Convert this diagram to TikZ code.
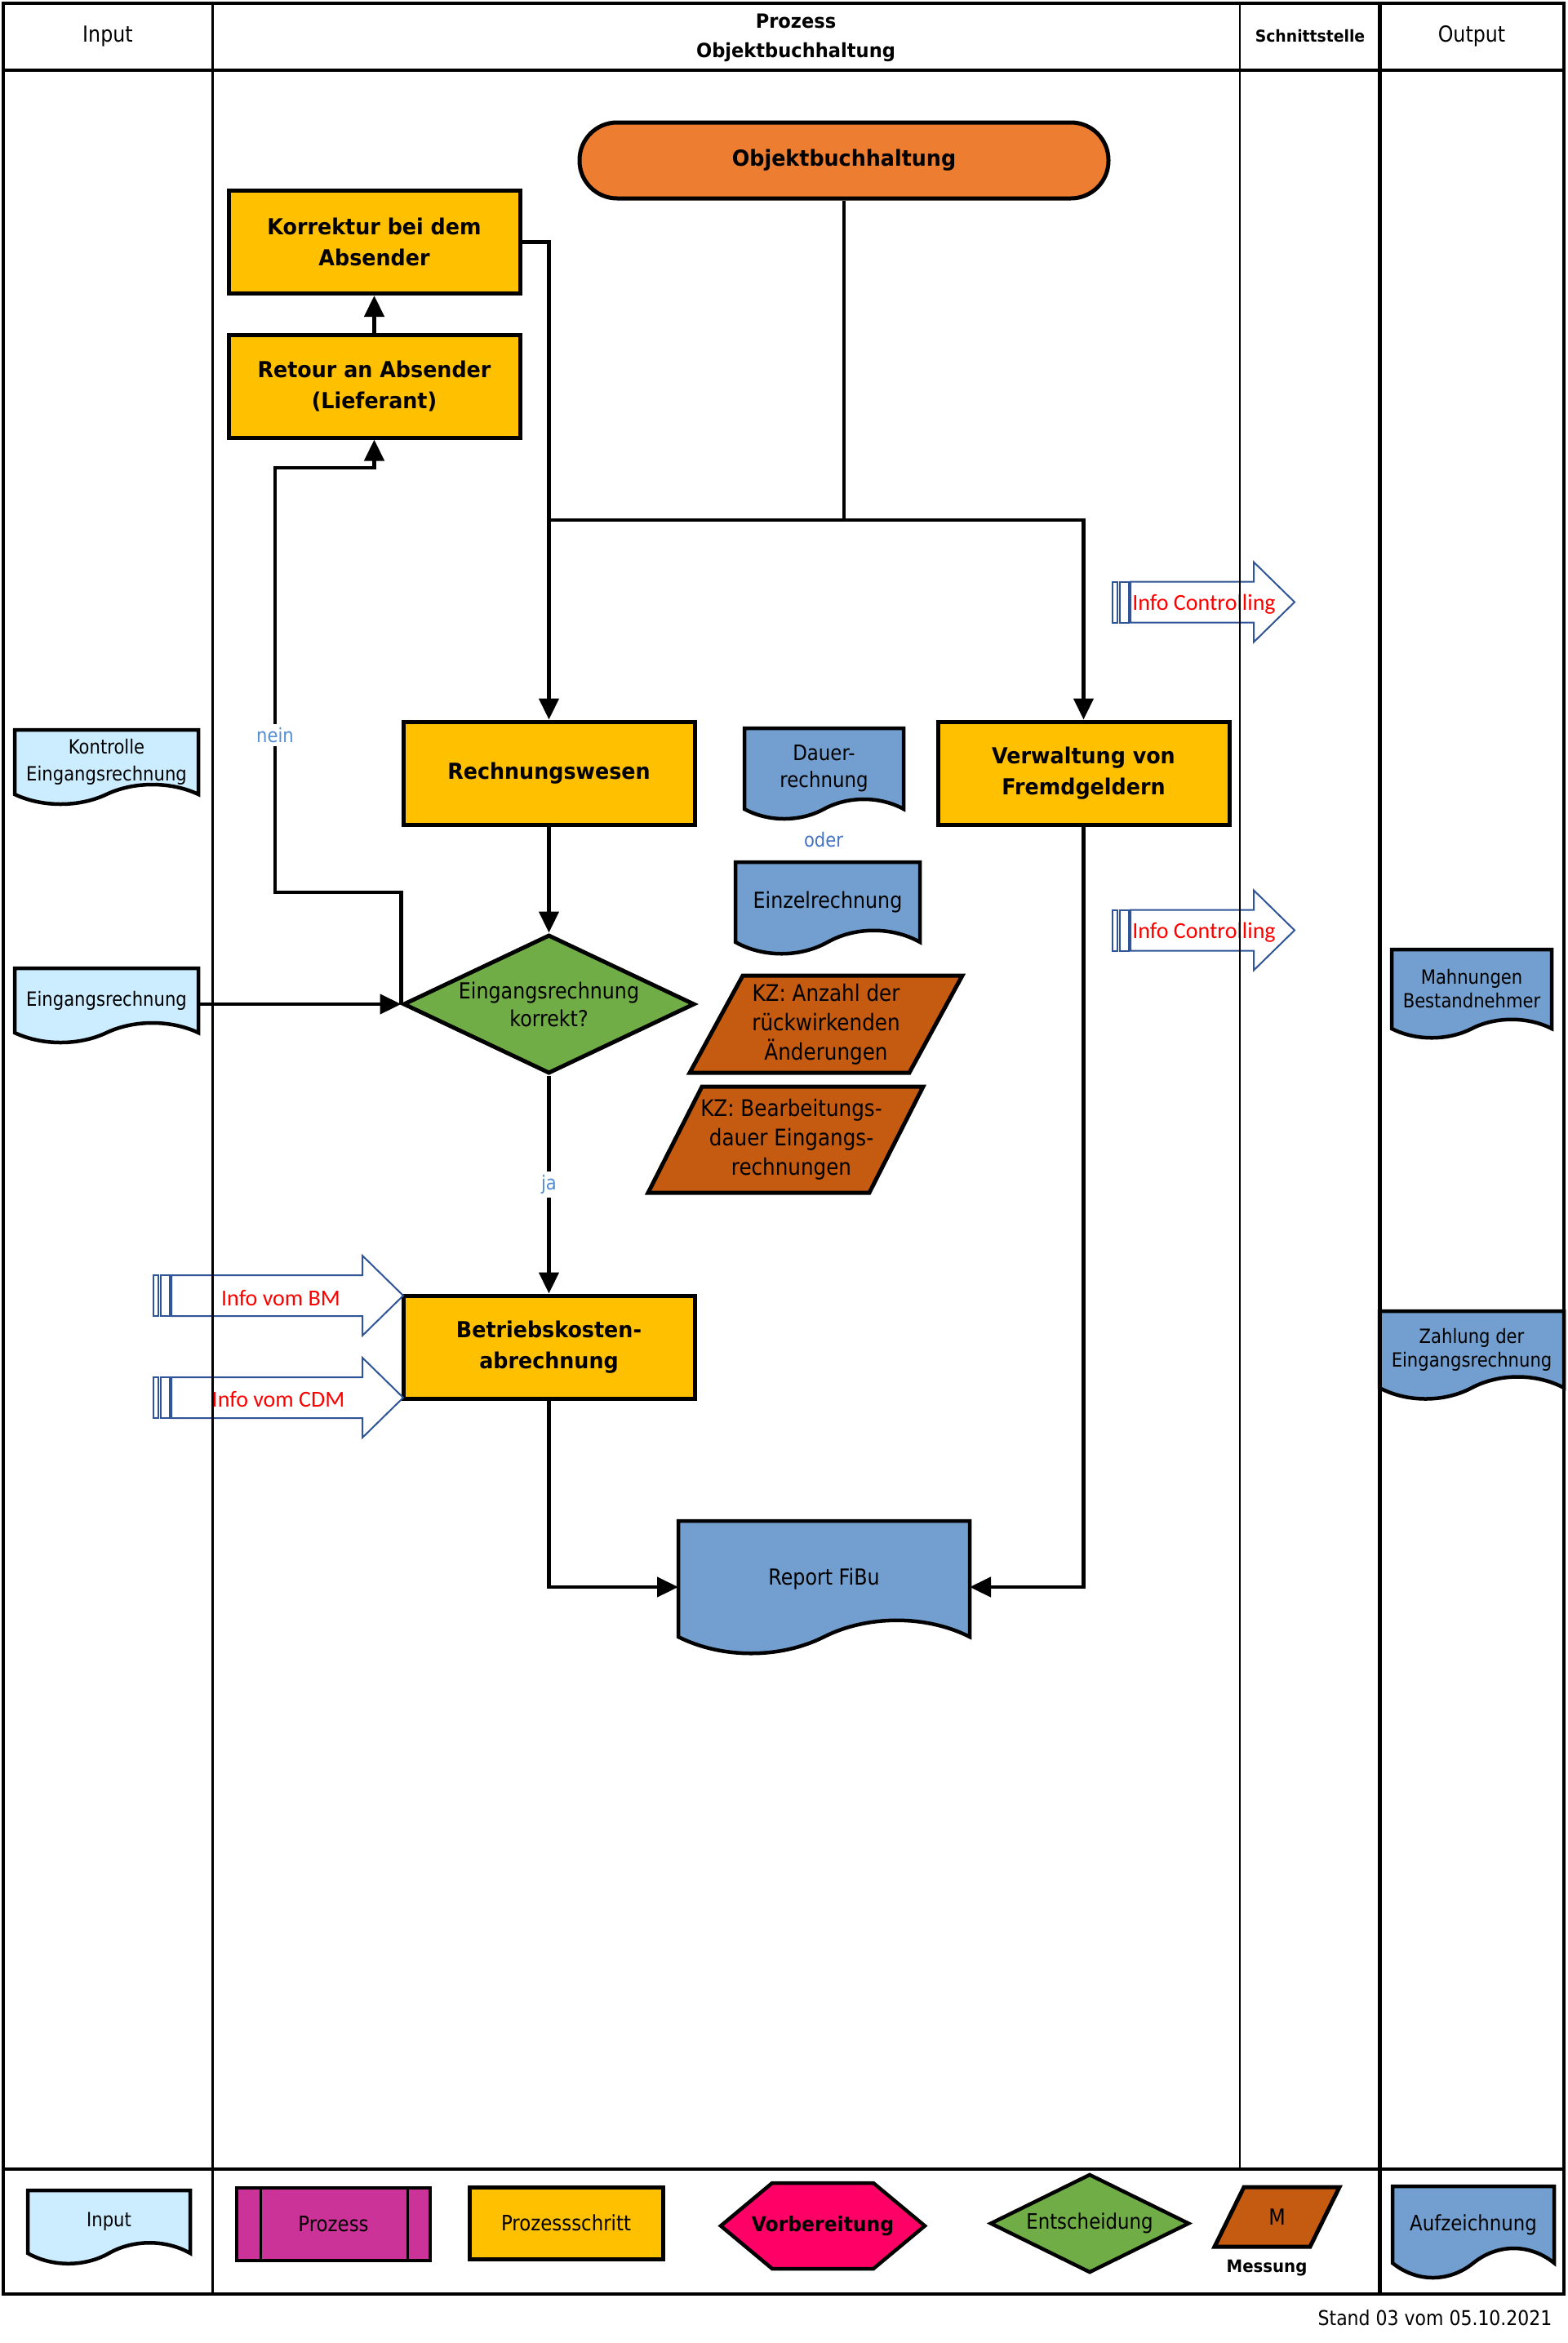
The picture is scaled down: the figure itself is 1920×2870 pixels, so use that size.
\documentclass[tikz,border=0pt]{standalone}
\usepackage{fontspec}
\setmainfont{DejaVu Sans}[FakeStretch=0.88]
\newfontfamily\tahbold{DejaVu Sans}[FakeStretch=0.94]
\newfontfamily\calib{Carlito}
\usetikzlibrary{arrows.meta,positioning,calc,shapes.geometric,backgrounds}
\newcommand{\fs}[2]{\fontsize{#1}{#2}\selectfont}
\definecolor{ink}{RGB}{0,0,0}
\definecolor{stepgold}{RGB}{255,192,0}
\definecolor{termorange}{RGB}{237,125,49}
\definecolor{docblue}{RGB}{114,159,207}
\definecolor{inblue}{RGB}{204,236,255}
\definecolor{decgreen}{RGB}{112,173,71}
\definecolor{kzbrown}{RGB}{197,90,17}
\definecolor{procmagenta}{RGB}{204,51,153}
\definecolor{prepink}{RGB}{255,0,102}
\definecolor{infoblue}{RGB}{47,85,151}
\definecolor{labelblue}{RGB}{84,141,212}
\definecolor{oderblue}{RGB}{68,114,196}
\tikzset{
  frameline/.style={draw=ink,line width=4.5pt},
  lane/.style={draw=ink,line width=3pt},
  flow/.style={draw=ink,line width=4.5pt,-{Triangle[length=26pt,width=24pt]}},
  link/.style={draw=ink,line width=4.5pt},
  headtext/.style={align=center,font=\fs{27}{32}},
  stepbox/.style={draw=ink,line width=5pt,fill=stepgold,minimum width=357pt,minimum height=126pt,inner sep=0pt,align=center,font=\tahbold\bfseries\fs{27}{38}},
  termbox/.style={stepbox,fill=termorange,rounded corners=46pt,minimum width=648pt,minimum height=93pt},
  decision/.style={diamond,aspect=2.1,draw=ink,line width=5pt,fill=decgreen,inner sep=0pt,align=center,font=\fs{27}{34}},
  docnode/.style={inner sep=0pt,outer sep=0pt,align=center},
  docline/.style={draw=ink,line width=4.5pt},
  kz/.style={draw=ink,line width=5pt,fill=kzbrown},
  kztext/.style={inner sep=0pt,outer sep=0pt,align=center,font=\fs{28}{36}},
  infoline/.style={draw=infoblue,line width=2pt},
  infotext/.style={text=red,font=\calib\fs{28}{32}},
  edgelabel/.style={fill=white,inner sep=4pt,text=labelblue,font=\fs{24}{28}}
}
% document shape with wavy bottom edge
\newcommand{\docshape}[3]{%
  \filldraw[docline,fill=#2] (#1.south east) -- (#1.north east) -- (#1.north west) -- (#1.south west)
    .. controls ($(#1.south west)!0.15!(#1.south east)+(0,#3)$) and ($(#1.south west)!0.35!(#1.south east)+(0,#3)$) .. ($(#1.south west)!0.5!(#1.south east)$)
    .. controls ($(#1.south west)!0.65!(#1.south east)+(0,-#3)$) and ($(#1.south west)!0.85!(#1.south east)+(0,-#3)$) .. (#1.south east) -- cycle;}
% measurement parallelogram
\newcommand{\parashape}[3]{%
  \filldraw[kz,fill=#2] ($(#1.north west)+(#3,0)$) -- (#1.north east) -- ($(#1.south east)+(-#3,0)$) -- (#1.south west) -- cycle;}
% outlined interface arrow
\newcommand{\infoarrow}[3]{%
  \draw[infoline] (#1,#2-25) rectangle (#1+6,#2+25);
  \draw[infoline] (#1+9,#2-25) rectangle (#1+20,#2+25);
  \draw[infoline] (#1+22,#2-25) -- (#3-50,#2-25) -- (#3-50,#2-49) -- (#3,#2) -- (#3-50,#2+49) -- (#3-50,#2+25) -- (#1+22,#2+25) -- cycle;}

\begin{document}
\begin{tikzpicture}[x=1pt,y=-1pt]
  \useasboundingbox (0,0) rectangle (1920,2870);

  % header
  \node[headtext] (hin) at (132,44) {Input};
  \node[headtext,font=\tahbold\bfseries\fs{24}{36}] (hproc) at (975,46) {Prozess\\Objektbuchhaltung};
  \node[headtext,font=\tahbold\bfseries\fs{20}{24}] (hschn) at (1605,44) {Schnittstelle};
  \node[headtext] (hout) at (1803,44) {Output};

  % process
  \node[termbox] (obh) at (1034,196.5) {Objektbuchhaltung};
  \node[stepbox] (korr) at (458.5,296.5) {Korrektur bei dem\\Absender};
  \node[stepbox] (ret) at (458.5,473) {Retour an Absender\\(Lieferant)};
  \node[stepbox] (rw) at (672.5,947) {Rechnungswesen};
  \node[stepbox] (vw) at (1327.5,947) {Verwaltung von\\Fremdgeldern};
  \node[decision,minimum width=357pt,minimum height=170pt] (dia) at (672.5,1230) {Eingangsrechnung\\korrekt?};
  \node[stepbox] (bks) at (672.5,1650) {Betriebskosten-\\abrechnung};

  % documents
  \node[docnode,minimum width=225pt,minimum height=79pt,font=\fs{24}{33}] (kon) at (130.5,933.5) {Kontrolle\\Eingangsrechnung};
  \node[docnode,minimum width=225pt,minimum height=79pt,font=\fs{24}{33}] (ein) at (130.5,1225.5) {Eingangsrechnung};
  \node[docnode,minimum width=195pt,minimum height=99pt,font=\fs{26}{33}] (dauer) at (1009.5,941.5) {Dauer-\\rechnung};
  \node[edgelabel,text=oderblue] (oder) at (1009,1029) {oder};
  \node[docnode,minimum width=226pt,minimum height=98pt,font=\fs{27}{33}] (einz) at (1014,1105) {Einzelrechnung};
  \node[docnode,minimum width=357pt,minimum height=142pt,font=\fs{27}{33}] (rep) at (1009.5,1934) {Report FiBu};
  \node[docnode,minimum width=196pt,minimum height=97pt,font=\fs{24}{29}] (mahn) at (1803,1211.5) {Mahnungen\\Bestandnehmer};
  \node[docnode,minimum width=226pt,minimum height=94pt,font=\fs{24}{29}] (zahl) at (1803,1653) {Zahlung der\\Eingangsrechnung};

  % key figures
  \node[kztext,minimum width=334pt,minimum height=119pt] (kza) at (1012,1254.5) {KZ: Anzahl der\\rückwirkenden\\Änderungen};
  \node[kztext,minimum width=337pt,minimum height=130pt] (kzb) at (962.5,1396) {\hspace*{14pt}KZ: Bearbeitungs-\\\hspace*{14pt}dauer Eingangs-\\\hspace*{14pt}rechnungen};

  % interfaces
  \infoarrow{1363}{737.5}{1586}
  \node[infotext] (infoA) at (1475,740) {Info Controlling};
  \infoarrow{1363}{1139.5}{1586}
  \node[infotext] (infoB) at (1475,1142) {Info Controlling};
  \infoarrow{188}{1587}{494}
  \node[infotext] (infoBM) at (344,1590) {Info vom BM};
  \infoarrow{188}{1712}{494}
  \node[infotext] (infoCDM) at (341,1714) {Info vom CDM};

  % connectors
  \coordinate (split) at (1034,637);
  \coordinate (neinA) at (337,1093);
  \coordinate (neinB) at (337,573);
  \draw[flow] (korr.east) -| (rw.north);
  \draw[link] (obh.south) -- (split) -- (split -| rw.north);
  \draw[flow] (split) -| (vw.north);
  \draw[flow] (ret.north) -- (korr.south);
  \draw[flow] (rw.south) -- (dia.north);
  \draw[flow] (dia.south) -- node[edgelabel] (ja) {ja} (bks.north);
  \draw[flow] (dia.west) |- (neinA) -- node[edgelabel,pos=0.37] (nein) {nein} (neinB) -| (ret.south);
  \draw[flow] (ein.east |- dia.west) -- (dia.west);
  \draw[flow] (bks.south) |- ([yshift=-10pt]rep.west);
  \draw[flow] (vw.south) |- ([yshift=-10pt]rep.east);

  % legend
  \node[docnode,minimum width=199pt,minimum height=77pt,font=\fs{24}{28}] (lin) at (133.5,2721.5) {Input};
  \node[draw=ink,line width=4.5pt,fill=procmagenta,minimum width=237pt,minimum height=89pt,font=\fs{26}{30}] (lproc) at (408.5,2724.5) {Prozess};
  \draw[docline,line width=3pt] ([xshift=32pt,yshift=-2pt]lproc.north west) -- ([xshift=32pt,yshift=2pt]lproc.south west);
  \draw[docline,line width=3pt] ([xshift=-30pt,yshift=-2pt]lproc.north east) -- ([xshift=-30pt,yshift=2pt]lproc.south east);
  \node[stepbox,minimum width=237pt,minimum height=88pt,font=\fs{26}{30}] (lstep) at (693.5,2723) {Prozessschritt};
  \node[docnode,minimum width=250pt,minimum height=105pt,font=\tahbold\bfseries\fs{25}{30}] (lprep) at (1008,2726.5) {Vorbereitung};
  \node[decision,aspect=2,line width=4.5pt,minimum width=244pt,minimum height=121pt,font=\fs{26}{30}] (ldec) at (1335,2723.5) {Entscheidung};
  \node[kztext,minimum width=153pt,minimum height=73pt,font=\fs{27}{30}] (lmess) at (1564.5,2715.5) {M};
  \node[font=\tahbold\bfseries\fs{21}{24}] (lmesstxt) at (1552,2778) {Messung};
  \node[docnode,minimum width=198pt,minimum height=94pt,font=\fs{26}{30}] (lauf) at (1805,2725) {Aufzeichnung};
  \node[anchor=east,font=\fs{25}{30}] (stand) at (1905,2839) {Stand 03 vom 05.10.2021};

  \begin{pgfonlayer}{background}
    \fill[white] (0,0) rectangle (1920,2870);
    \docshape{kon}{inblue}{16}
    \docshape{ein}{inblue}{16}
    \docshape{dauer}{docblue}{16}
    \docshape{einz}{docblue}{19}
    \docshape{rep}{docblue}{27}
    \docshape{mahn}{docblue}{15}
    \docshape{zahl}{docblue}{18}
    \docshape{lin}{inblue}{17}
    \docshape{lauf}{docblue}{24}
    \parashape{kza}{kzbrown}{65}
    \parashape{kzb}{kzbrown}{66}
    \parashape{lmess}{kzbrown}{36}
    \filldraw[docline,fill=prepink] (lprep.west) -- ($(lprep.north west)+(63,0)$) -- ($(lprep.north east)+(-63,0)$)
      -- (lprep.east) -- ($(lprep.south east)+(-63,0)$) -- ($(lprep.south west)+(63,0)$) -- cycle;
  \end{pgfonlayer}

  % swimlanes
  \draw[frameline] (4,4) rectangle (1916,2810);
  \draw[frameline] (4,86) -- (1916,86);
  \draw[frameline] (4,2657) -- (1916,2657);
  \draw[lane] (260,4) -- (260,2810);
  \draw[lane,line width=2.5pt] (1519,4) -- (1519,2657);
  \draw[lane,line width=5pt] (1690,4) -- (1690,2810);
\end{tikzpicture}
\end{document}
